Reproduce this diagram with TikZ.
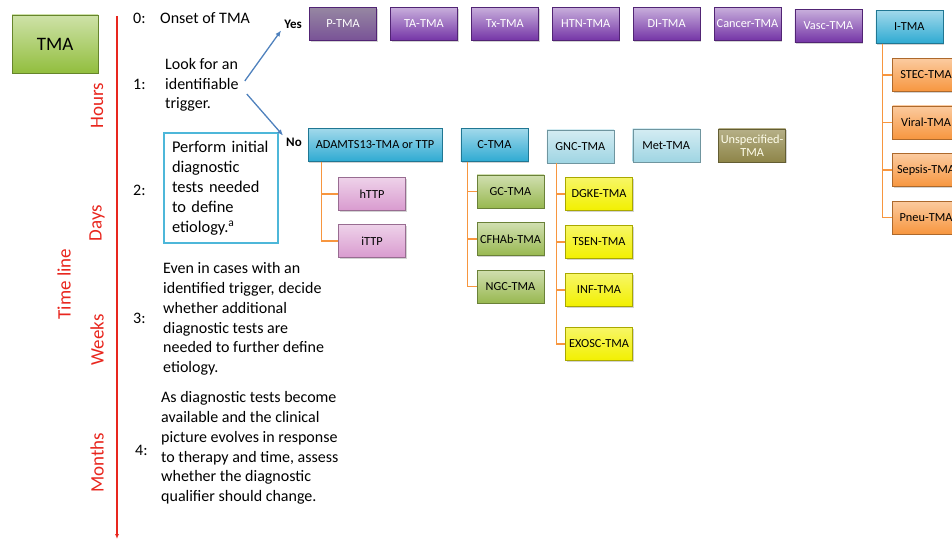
\documentclass[tikz,border=0pt]{standalone}
\usepackage{fontspec}
\setmainfont{Carlito}
\usetikzlibrary{arrows.meta,shadows,positioning}

\definecolor{tmagreen}{HTML}{92BE3E}
\definecolor{tmapurple}{HTML}{7434A6}
\definecolor{tmacyan}{HTML}{2EAAD2}
\definecolor{tmalcyan}{HTML}{9FD5E3}
\definecolor{tmapink}{HTML}{D99BCF}
\definecolor{tmaleaf}{HTML}{98B850}
\definecolor{tmayellow}{HTML}{F2F000}
\definecolor{tmaorange}{HTML}{F7963F}
\definecolor{tmaolive}{HTML}{8E8548}
\definecolor{tmablue}{HTML}{4F81BD}
\definecolor{tmared}{HTML}{E8261E}

\tikzset{
  tbox/.style={draw=#1!70!black, top color=#1!45, bottom color=#1, minimum width=67pt, minimum height=33pt,
    inner sep=1pt, align=center, font=\fontsize{12.3}{13}\selectfont,
    drop shadow={opacity=0.35, shadow xshift=1.2pt, shadow yshift=-1.2pt}},
  purplebox/.style={tbox=tmapurple, top color=tmapurple!40, text=white},
  cyanbox/.style={tbox=tmacyan},
  lcyanbox/.style={tbox=tmalcyan},
  pinkbox/.style={tbox=tmapink},
  leafbox/.style={tbox=tmaleaf},
  yellowbox/.style={tbox=tmayellow, top color=tmayellow!60},
  orangebox/.style={tbox=tmaorange, top color=tmaorange!50},
  olivebox/.style={tbox=tmaolive, top color=tmaolive!65, text=white!92!yellow},
  tmabox/.style={tbox=tmagreen, top color=tmagreen!45, minimum width=86pt, minimum height=58pt, font=\fontsize{19}{21}\selectfont},
  phase/.style={rotate=90, text=tmared, font=\fontsize{19}{21}\selectfont},
  stepnum/.style={anchor=west, inner sep=0pt, font=\fontsize{16}{18}\selectfont},
  steptext/.style={anchor=west, inner sep=0pt, align=left, font=\fontsize{16}{19.7}\selectfont},
  initbox/.style={draw=tmacyan!85, line width=2.2pt, text width=98pt, minimum height=107pt, inner sep=8pt,
    align=left, font=\fontsize{16.4}{20}\selectfont},
  answer/.style={font=\bfseries\fontsize{13}{14}\selectfont, inner sep=0pt},
  link/.style={draw=tmaorange, line width=1.3pt},
  choice/.style={draw=tmablue, line width=1.3pt, -{Latex[length=6pt,width=5pt]}},
  timeline/.style={draw=tmared, line width=1.5pt, -{Latex[length=5pt,width=4pt]}}
}

\begin{document}
\begin{tikzpicture}[x=1pt,y=-1pt]
\useasboundingbox (0,0) rectangle (952,540);

% time line
\node (tma) [tmabox] at (55,44) {TMA};
\coordinate (tl top) at (117,16);
\coordinate (tl end) at (117,539);
\draw[timeline] (tl top) -- (tl end);
\node (hours) [phase] at (97,106) {Hours};
\node (days) [phase] at (97,223) {Days};
\node (timel) [phase] at (64,284) {Time line};
\node (weeks) [phase] at (97,340) {Weeks};
\node (months) [phase] at (97,463) {Months};

% steps
\node (s0) [stepnum] at (133,18) {0:};
\node (onset) [steptext] at (160,18) {Onset of TMA};
\node (s1) [stepnum] at (133,84) {1:};
\node (look) [steptext] at (165,85) {Look for an\\identifiable\\trigger.};
\node (s2) [stepnum] at (133,190) {2:};
\node (init) [initbox] at (221,188) {Perform initial\\diagnostic\\tests needed\\to define\\etiology.\textsuperscript{a}};
\node (s3) [stepnum] at (133,318) {3:};
\node (extra) [steptext] at (163,319) {Even in cases with an\\identified trigger, decide\\whether additional\\diagnostic tests are\\needed to further define\\etiology.};
\node (s4) [stepnum] at (135,450) {4:};
\node (assess) [steptext] at (161,448) {As diagnostic tests become\\available and the clinical\\picture evolves in response\\to therapy and time, assess\\whether the diagnostic\\qualifier should change.};

% yes / no
\node (yes) [answer] at (293,24) {Yes};
\node (no) [answer] at (294,142) {No};
\draw[choice] ([shift={(6,-4)}]look.east) -- ([shift={(-3,2)}]yes.south west);
\draw[choice] ([shift={(8,9)}]look.east) -- ([shift={(-3,-2)}]no.north west);

% identifiable trigger
\node (ptma) [purplebox, top color=tmapurple!30!gray!80, bottom color=tmapurple!60!gray] at (343,24) {P-TMA};
\node (tatma) [purplebox, right=13.5pt of ptma] {TA-TMA};
\node (txtma) [purplebox, right=13.5pt of tatma] {Tx-TMA};
\node (htntma) [purplebox, right=13.5pt of txtma] {HTN-TMA};
\node (ditma) [purplebox, right=13.5pt of htntma] {DI-TMA};
\node (cantma) [purplebox, right=13.5pt of ditma] {Cancer-TMA};
\node (vasctma) [purplebox, right=13.5pt of cantma, yshift=-2pt] {Vasc-TMA};
\node (itma) [cyanbox, right=13.5pt of vasctma, yshift=-1pt] {I-TMA};

\node (stec) [orangebox] at (926,75) {STEC-TMA};
\node (viral) [orangebox, below of=stec, node distance=47.5pt] {Viral-TMA};
\node (sepsis) [orangebox, below of=viral, node distance=47.5pt] {Sepsis-TMA};
\node (pneu) [orangebox, below of=sepsis, node distance=47.5pt] {Pneu-TMA};

% no identifiable trigger
\node (adam) [cyanbox, minimum width=134pt] at (375,145) {ADAMTS13-TMA or TTP};
\node (ctma) [cyanbox, right=18.5pt of adam] {C-TMA};
\node (gnc) [lcyanbox, right=18.5pt of ctma, yshift=-1.5pt] {GNC-TMA};
\node (met) [lcyanbox, right=18.5pt of gnc, yshift=1pt] {Met-TMA};
\node (unspec) [olivebox, right=18.5pt of met] {Unspecified-\\TMA};

\node (http) [pinkbox] at (372,194) {hTTP};
\node (ittp) [pinkbox, below of=http, node distance=47pt] {iTTP};

\node (gctma) [leafbox] at (510.5,191.5) {GC-TMA};
\node (cfhab) [leafbox, below of=gctma, node distance=47.5pt] {CFHAb-TMA};
\node (ngc) [leafbox, below of=cfhab, node distance=47.5pt] {NGC-TMA};

\node (dgke) [yellowbox] at (599,194) {DGKE-TMA};
\node (tsen) [yellowbox, below of=dgke, node distance=48pt] {TSEN-TMA};
\node (inf) [yellowbox, below of=tsen, node distance=48pt] {INF-TMA};
\node (exosc) [yellowbox, below of=inf, node distance=54pt] {EXOSC-TMA};

% Links
\draw[link] ([xshift=14pt]adam.south west) |- (http);
\draw[link] ([xshift=14pt]adam.south west) |- (ittp);
\draw[link] ([xshift=7pt]ctma.south west) |- (gctma);
\draw[link] ([xshift=7pt]ctma.south west) |- (cfhab);
\draw[link] ([xshift=7pt]ctma.south west) |- (ngc);
\draw[link] ([xshift=10pt]gnc.south west) |- (dgke);
\draw[link] ([xshift=10pt]gnc.south west) |- (tsen);
\draw[link] ([xshift=10pt]gnc.south west) |- (inf);
\draw[link] ([xshift=10pt]gnc.south west) |- (exosc);
\draw[link] ([xshift=7pt]itma.south west) |- (stec);
\draw[link] ([xshift=7pt]itma.south west) |- (viral);
\draw[link] ([xshift=7pt]itma.south west) |- (sepsis);
\draw[link] ([xshift=7pt]itma.south west) |- (pneu);
\end{tikzpicture}
\end{document}
